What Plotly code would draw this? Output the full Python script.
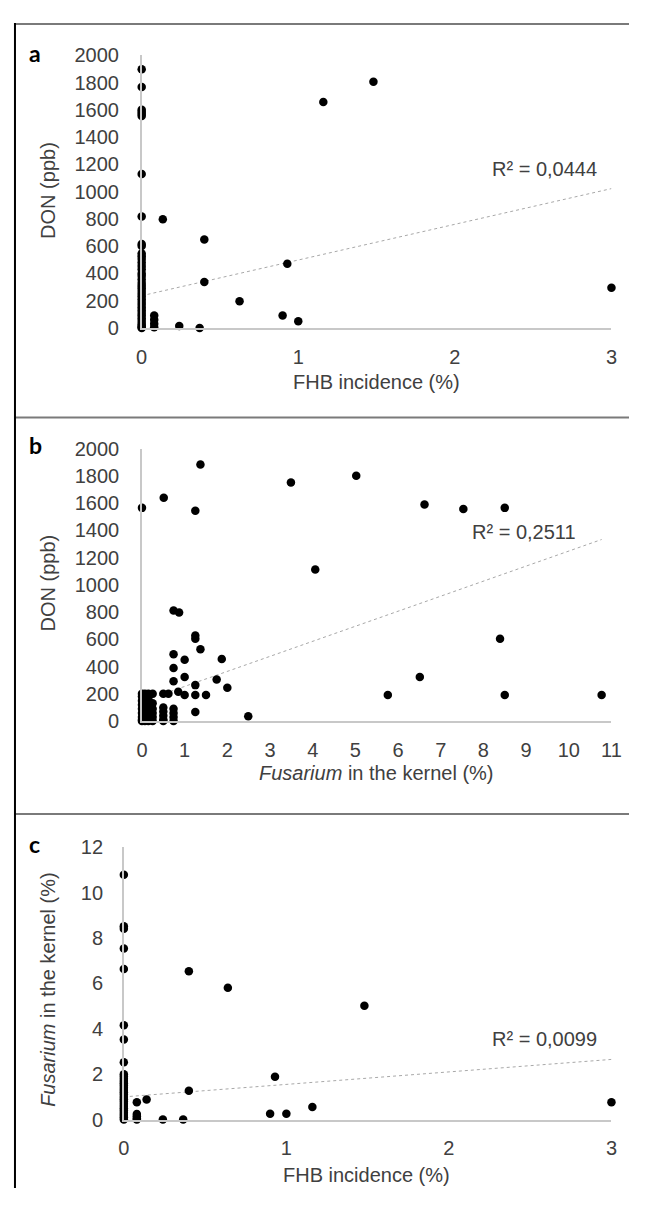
import plotly.graph_objects as go

# page is 647x1207; the browser body keeps its default 8px margin,
# so the figure itself is 631x1191 and reference pixels are shifted by 8.
PW, PH = 647, 1207
OFF = 8
W, H = PW - 2 * OFF, PH - 2 * OFF

# ---------------- data ----------------
# Panel a: FHB incidence (%) vs DON (ppb)
a_x = [0]*38 + [0.08]*4 + [0.135, 0.24, 0.37, 0.40, 0.40, 0.625, 0.90, 0.93, 1.0, 1.16, 1.48, 3.0]
a_y = [1897, 1768, 1600, 1585, 1570, 1555, 1129, 817, 615, 600, 545, 525, 505, 480, 455, 430,
       400, 380, 355, 330, 310, 290, 270, 250, 230, 210, 190, 170, 150, 130, 110, 90, 70, 50,
       30, 15, 5, 0,
       90, 60, 30, 5,
       797, 14, 0, 648, 336, 195, 91, 471, 48, 1657, 1806, 295]

# Panel b: Fusarium in the kernel (%) vs DON (ppb)
b_x = ([0]*9 + [0.07]*5 + [0.15]*6 + [0.25]*6 + [0.5]*6 + [0.62] + [0.74]*4 +
       [0.0, 0.51, 1.37, 1.25, 3.49, 4.06, 0.74, 0.87, 1.25, 1.25, 1.37, 0.74, 1.0, 1.87,
        0.74, 1.0, 0.74, 1.75, 1.25, 2.0, 0.85, 1.0, 1.25, 1.5, 1.25, 2.49,
        5.02, 6.62, 7.53, 8.50, 8.39, 6.51, 5.76, 8.50, 10.77])
b_y = ([200, 180, 150, 120, 90, 60, 30, 10, 0] + [200, 140, 100, 50, 0] +
       [200, 170, 120, 80, 40, 0] + [200, 130, 90, 60, 30, 0] +
       [200, 100, 70, 40, 10, 0] + [200] + [90, 60, 30, 0] +
       [1565, 1640, 1883, 1544, 1751, 1112, 811, 797, 629, 605, 528, 490, 451, 456,
        389, 324, 293, 305, 264, 245, 216, 192, 192, 192, 67, 36,
        1801, 1589, 1556, 1565, 605, 324, 192, 192, 192])

# Panel c: FHB incidence (%) vs Fusarium in the kernel (%)
c_x = [0]*29 + [0.08]*5 + [0.14, 0.24, 0.365, 0.40, 0.40, 0.64, 0.90, 0.93, 1.0, 1.16, 1.48, 3.0]
c_y = [10.78, 8.52, 8.4, 7.54, 6.63, 4.15, 3.53, 2.53, 2.0, 1.9, 1.8, 1.7, 1.6, 1.5, 1.4, 1.3,
       1.2, 1.1, 1.0, 0.9, 0.8, 0.7, 0.6, 0.5, 0.4, 0.3, 0.2, 0.1, 0.0,
       0.76, 0.25, 0.15, 0.05, 0.0,
       0.88, 0.0, 0.0, 6.53, 1.27, 5.81, 0.26, 1.89, 0.26, 0.55, 5.01, 0.76]

# linear trendlines (intercept, slope, x-range)
trend_a = (236, 262, [0, 3.0])
trend_b = (144, 110.4, [0, 10.77])
trend_c = (1.0, 0.55, [0, 3.0])
r2_labels = ["R² = 0,0444", "R² = 0,2511", "R² = 0,0099"]

don_ticks = list(range(0, 2001, 200))
fhb_ticks = [0, 1, 2, 3]
fus_ticks_x = list(range(0, 12))
fus_ticks_y = list(range(0, 13, 2))

# ---------------- figure ----------------
FONT = "Liberation Sans, Arial, sans-serif"
TF = 20
TXT = "#404040"
fig = go.Figure()

def px2x(p):
    return (p - OFF) / W

def px2y(p):
    return 1 - (p - OFF) / H

panels = [
    dict(x=a_x, y=a_y, trend=trend_a, xa="x", ya="y"),
    dict(x=b_x, y=b_y, trend=trend_b, xa="x2", ya="y2"),
    dict(x=c_x, y=c_y, trend=trend_c, xa="x3", ya="y3"),
]
for p in panels:
    b0, b1, xr = p["trend"]
    fig.add_trace(go.Scatter(x=xr, y=[b0 + b1 * v for v in xr], mode="lines",
                             line=dict(color="#a8a8a8", width=1, dash="dot"),
                             xaxis=p["xa"], yaxis=p["ya"], showlegend=False, hoverinfo="skip"))
    fig.add_trace(go.Scatter(x=p["x"], y=p["y"], mode="markers",
                             marker=dict(color="black", size=8.5),
                             xaxis=p["xa"], yaxis=p["ya"], showlegend=False, cliponaxis=False))

def xax(domain, rng, ticks, anchor):
    return dict(domain=domain, range=rng, tickvals=ticks, anchor=anchor, showgrid=False,
                zeroline=False, showline=True, linecolor="#c8c8c8", linewidth=1.5,
                ticks="outside", ticklen=10, tickcolor="rgba(0,0,0,0)",
                tickfont=dict(family=FONT, size=TF, color=TXT), fixedrange=True)

def yax(domain, rng, ticks, anchor, tl):
    return dict(domain=domain, range=rng, tickvals=ticks, anchor=anchor, showgrid=False,
                zeroline=False, showline=True, linecolor="#c8c8c8", linewidth=1.5,
                ticks="outside", ticklen=tl, tickcolor="rgba(0,0,0,0)",
                tickfont=dict(family=FONT, size=TF, color=TXT), fixedrange=True)

fig.update_layout(
    width=W, height=H, margin=dict(l=0, r=0, t=0, b=0),
    paper_bgcolor="white", plot_bgcolor="white",
    xaxis=xax([px2x(139), px2x(621)], [0, 3], fhb_ticks, "y"),
    yaxis=yax([px2y(322.7), px2y(45)], [0, 2000], don_ticks, "x", 17),
    xaxis2=xax([px2x(139.3), px2x(621)], [0, 11], fus_ticks_x, "y2"),
    yaxis2=yax([px2y(723.3), px2y(445.7)], [0, 2000], don_ticks, "x2", 17),
    xaxis3=xax([px2x(120.7), px2x(621)], [0, 3], fhb_ticks, "y3"),
    yaxis3=yax([px2y(1129.3), px2y(851.7)], [0, 12], fus_ticks_y, "x3", 15),
)

ann = []
# R² labels (data coordinates)
for (xa, ya, xv, yv), txt in zip([("x", "y", 2.57, 1165), ("x2", "y2", 8.94, 1385),
                                  ("x3", "y3", 2.59, 3.57)], r2_labels):
    ann.append(dict(x=xv, y=yv, xref=xa, yref=ya, text=txt, showarrow=False,
                    xanchor="center", yanchor="middle",
                    font=dict(family=FONT, size=TF, color=TXT)))

# axis titles
titles = [
    (43, 183, "DON (ppb)", -90),
    (380, 378, "FHB incidence (%)", 0),
    (43, 583, "DON (ppb)", -90),
    (380, 776, "<i>Fusarium</i> in the kernel (%)", 0),
    (43, 997, "<i>Fusarium</i> in the kernel (%)", -90),
    (370, 1186, "FHB incidence (%)", 0),
]
for x, y, t, ang in titles:
    ann.append(dict(x=px2x(x), y=px2y(y), xref="paper", yref="paper", text=t,
                    textangle=ang, showarrow=False, xanchor="center", yanchor="middle",
                    font=dict(family=FONT, size=TF, color=TXT)))

# panel letters
for x, y, t in [(30, 43, "a"), (30, 442, "b"), (29, 849, "c")]:
    ann.append(dict(x=px2x(x), y=px2y(y), xref="paper", yref="paper", text="<b>%s</b>" % t,
                    showarrow=False, xanchor="center", yanchor="middle",
                    font=dict(family="Lato, Open Sans, sans-serif", size=23, color="black")))
fig.update_layout(annotations=ann)

# panel frame lines
shapes = []
for yy in [13, 414, 818]:
    shapes.append(dict(type="line", xref="paper", yref="paper", x0=px2x(8), x1=1,
                       y0=px2y(yy), y1=px2y(yy), line=dict(color="#7a7a7a", width=2)))
shapes.append(dict(type="line", xref="paper", yref="paper", x0=px2x(9), x1=px2x(9),
                   y0=px2y(12), y1=0, line=dict(color="black", width=2)))
fig.update_layout(shapes=shapes)

fig.write_html("out.html", config={"displayModeBar": False})
